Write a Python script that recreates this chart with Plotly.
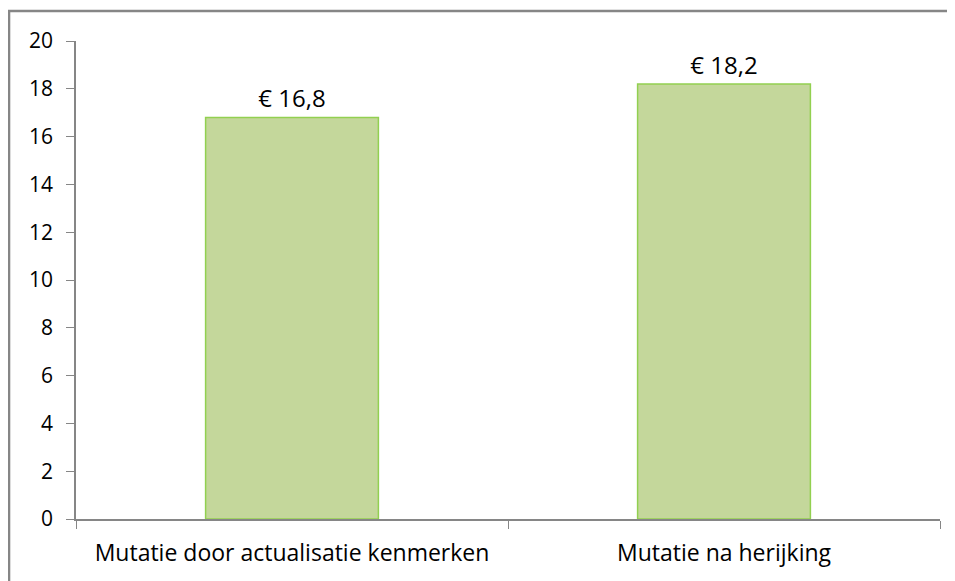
import plotly.graph_objects as go

categories = ["Mutatie door actualisatie kenmerken", "Mutatie na herijking"]
values = [16.8, 18.2]
y_ticks = [0, 2, 4, 6, 8, 10, 12, 14, 16, 18, 20]

FONT = "Open Sans"

fig = go.Figure(go.Bar(
    x=categories, y=values,
    marker=dict(color="#c4d79b", line=dict(color="#92d050", width=1.5)),
    texttemplate="€ %{y:.1f}", textposition="outside",
    textfont=dict(family=FONT, size=24, color="#000000"),
    cliponaxis=False,
))

fig.update_layout(
    width=947, height=573,
    margin=dict(l=68, r=15, t=33, b=62, autoexpand=False),
    paper_bgcolor="white", plot_bgcolor="white",
    separators=",.",
    bargap=0.6,
    showlegend=False,
    font=dict(family=FONT, size=21, color="#000000"),
    xaxis=dict(
        showline=True, linecolor="#868686", linewidth=1.5,
        ticks="outside", tickson="boundaries", ticklen=8, tickcolor="#868686",
        tickfont=dict(family=FONT, size=23),
        ticklabelstandoff=13,
        showgrid=False, automargin=False,
    ),
    yaxis=dict(
        range=[0, 20], tickvals=y_ticks,
        showline=True, linecolor="#868686", linewidth=1.5,
        ticks="outside", ticklen=8, tickcolor="#868686",
        tickfont=dict(family=FONT, size=21),
        ticklabelstandoff=9,
        showgrid=False, zeroline=False, automargin=False,
    ),
    shapes=[dict(type="rect", xref="paper", yref="paper",
                 x0=-0.0775, x1=1.1, y0=-0.3, y1=1.0628,
                 line=dict(color="#868686", width=2.5), fillcolor="rgba(0,0,0,0)")],
)

fig.write_html("out.html")
